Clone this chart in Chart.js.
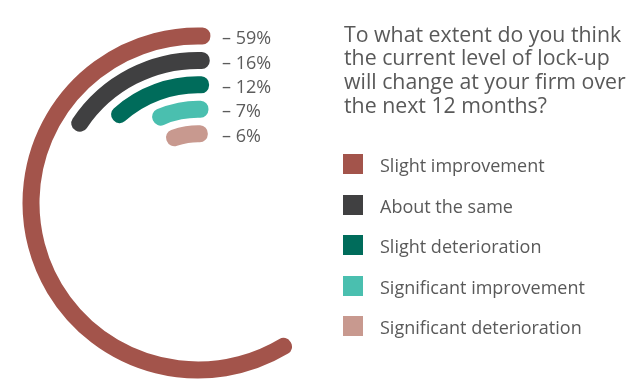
<!DOCTYPE html>
<html>
<head>
<meta charset="utf-8">
<script src="https://cdn.jsdelivr.net/npm/chart.js@4.4.1/dist/chart.umd.min.js"></script>
<style>
  html, body { margin:0; padding:0; background:#fff; }
  #wrap { position:relative; width:642px; height:382px; overflow:hidden; font-family:"Open Sans", sans-serif; }
  #c { position:absolute; left:0; top:0; }
  #title { position:absolute; left:344px; top:21.5px; font-size:21.3px; line-height:23.8px; color:#595959; white-space:nowrap; }
  #legend { position:absolute; left:343px; top:0; }
  .item { position:absolute; left:0; height:20px; white-space:nowrap; }
  .sw { position:absolute; left:0; top:0; width:20px; height:20px; }
  .lt { position:absolute; left:37px; top:-1px; font-size:18px; line-height:24px; color:#595959; }
</style>
</head>
<body>
<div id="wrap">
  <canvas id="c" width="642" height="382"></canvas>
  <div id="title">To what extent do you think<br>the current level of lock-up<br>will change at your firm over<br>the next 12 months?</div>
  <div id="legend"></div>
</div>
<script>
const categories = ['Slight improvement', 'About the same', 'Slight deterioration', 'Significant improvement', 'Significant deterioration'];
const values = [59, 16, 12, 7, 6];
const colors = ['#A3544B', '#404041', '#006C5B', '#4ABFAF', '#C8998F'];

const clear = 'rgba(0,0,0,0)';
const ringIdx = [];
const datasets = [];
categories.forEach((cat, i) => {
  ringIdx.push(datasets.length);
  datasets.push({
    label: cat,
    data: [100 - values[i], values[i]],
    backgroundColor: [clear, colors[i]],
    borderColor: [clear, colors[i]],
    borderWidth: [0, 16],
    hoverBorderWidth: [0, 16],
    borderJoinStyle: 'round',
    weight: 1
  });
  if (i < categories.length - 1) {
    datasets.push({ label: '', data: [1], backgroundColor: clear, borderColor: clear, borderWidth: 0, weight: 23.4 });
  }
});

const labelPlugin = {
  id: 'ringLabels',
  afterDatasetsDraw(chart) {
    const ctx = chart.ctx;
    ctx.save();
    ctx.font = '18px "Open Sans", sans-serif';
    ctx.fillStyle = '#5c5c5c';
    ctx.textBaseline = 'middle';
    ctx.textAlign = 'left';
    ringIdx.forEach((di, i) => {
      const arc = chart.getDatasetMeta(di).data[1];
      const r = (arc.outerRadius + arc.innerRadius) / 2;
      const y = arc.y - r + 3;
      ctx.fillText('\u2013 ' + values[i] + '%', arc.x + 24, y);
    });
    ctx.restore();
  }
};

new Chart(document.getElementById('c'), {
  type: 'doughnut',
  data: { labels: ['rest', 'value'], datasets },
  options: {
    responsive: false,
    animation: false,
    rotation: 1.5,
    cutout: '41.1%',
    layout: { padding: { left: 22.5, top: 27.5, right: 268.5, bottom: 3.5 } },
    plugins: { legend: { display: false }, tooltip: { enabled: false } },
    events: []
  },
  plugins: [labelPlugin]
});

const legend = document.getElementById('legend');
const rowTops = [154, 194.5, 235, 275.5, 316];
categories.forEach((cat, i) => {
  const it = document.createElement('div');
  it.className = 'item';
  it.style.top = rowTops[i] + 'px';
  it.innerHTML = '<div class="sw" style="background:' + colors[i] + '"></div><div class="lt">' + cat + '</div>';
  legend.appendChild(it);
});
</script>
</body>
</html>
